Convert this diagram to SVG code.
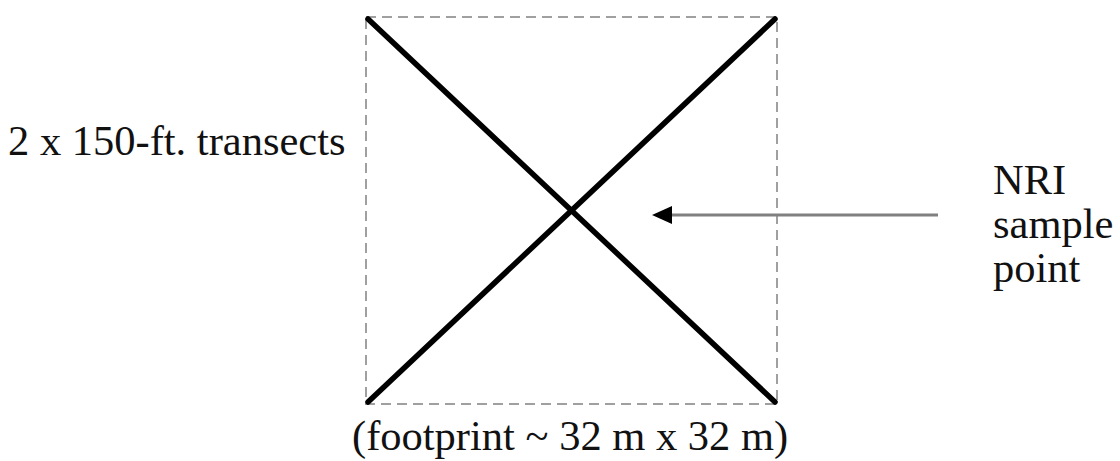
<svg xmlns="http://www.w3.org/2000/svg" width="1120" height="461" viewBox="0 0 1120 461">
<style>
.t{font-family:"Liberation Serif","Times New Roman",serif;font-size:42.5px;fill:#111}
.tr{stroke:#000;stroke-width:5.5;stroke-linecap:round}
</style>
<rect width="1120" height="461" fill="#fff"/>
<g id="footprint">
<rect x="366" y="17" width="411" height="387" fill="none" stroke="#a0a0a0" stroke-width="2" stroke-dasharray="10,6"/>
</g>
<g id="transects">
<line class="tr" x1="368" y1="19" x2="775" y2="402"/>
<line class="tr" x1="775" y1="19" x2="368" y2="402"/>
</g>
<g id="connectors">
<line x1="938" y1="215" x2="670" y2="215" stroke="#808080" stroke-width="3"/>
<polygon points="652,215 672,206 672,224" fill="#000"/>
</g>
<g id="label-transects"><text class="t" x="8" y="155">2 x 150-ft. transects</text></g>
<g id="label-nri">
<text class="t" x="993" y="194">NRI</text>
<text class="t" x="993" y="238">sample</text>
<text class="t" x="993" y="282">point</text>
</g>
<g id="label-footprint"><text class="t" x="352" y="450">(footprint ~ 32 m x 32 m)</text></g>
</svg>
